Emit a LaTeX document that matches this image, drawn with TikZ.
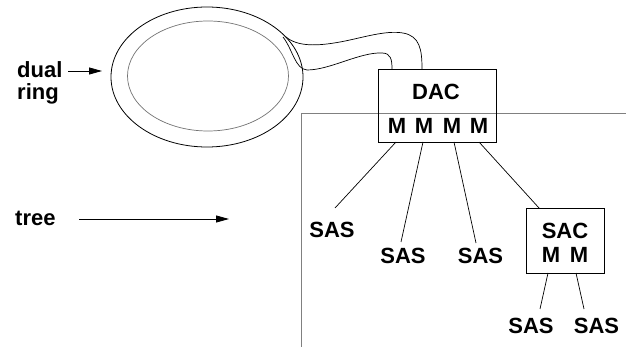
\documentclass[tikz,border=0pt]{standalone}
\usepackage{fontspec}
\setmainfont{Liberation Sans}
\usetikzlibrary{arrows.meta,shapes.geometric}
\begin{document}
\begin{tikzpicture}[x=1pt,y=-1pt,
  lbl/.style={font=\fontsize{22}{24}\selectfont\bfseries, inner sep=0pt},
  blk/.style={draw=black, line width=0.8pt},
  fine/.style={draw=black, line width=0.7pt},
  grayline/.style={draw=black!50, line width=0.8pt},
  arr/.style={line width=0.8pt, -{Triangle[length=13pt,width=7pt]}}]
\useasboundingbox (0,0) rectangle (626,347);
% gray L
\coordinate (gtop) at (301,113);
\coordinate (gbot) at (301,347);
\coordinate (gright) at (626,113);
\draw[grayline] (gbot) -- (gtop) -- (gright);
% ring
\node[draw=black, line width=0.8pt, ellipse, minimum width=192pt, minimum height=140pt, inner sep=0pt] (outer) at (207,77) {};
\node[draw=black!55, line width=0.7pt, ellipse, minimum width=161pt, minimum height=110pt, inner sep=0pt] (inner) at (208,76) {};
% DAC box
\node[blk, minimum width=118pt, minimum height=73pt, inner sep=0pt] (dac) at (437,105.5) {};
\node[lbl] (dactxt) at (436,92) {DAC};
\node[lbl] (m1) at (397,126) {M};
\node[lbl] (m2) at (424,126) {M};
\node[lbl] (m3) at (452,126) {M};
\node[lbl] (m4) at (479,126) {M};
% fibre tail
\coordinate (tu) at (422,69);
\coordinate (tl) at (392,69);
\draw[fine] (286,37) .. controls (298,47) and (318,46) .. (340,42)
  .. controls (362,38) and (385,30) .. (403,33)
  .. controls (420,36) and (422,50) .. (tu);
\draw[fine] (283,37) .. controls (293,50) and (295,69) .. (307,70)
  .. controls (330,70) and (360,52) .. (382,53)
  .. controls (391,53) and (392,60) .. (tl);
% SAC box
\node[blk, minimum width=78pt, minimum height=65pt, inner sep=0pt] (sac) at (565,240.5) {};
\node[lbl] (sactxt) at (565,231) {SAC};
\node[lbl] (sm1) at (551,255) {M};
\node[lbl] (sm2) at (579,255) {M};
% SAS labels
\node[lbl] (s1) at (332,230) {SAS};
\node[lbl] (s2) at (403,256) {SAS};
\node[lbl] (s3) at (480.5,256) {SAS};
\node[lbl] (s4) at (531,326) {SAS};
\node[lbl] (s5) at (596.5,326) {SAS};
% connectors
\coordinate (d1) at (396,142);
\coordinate (d2) at (423,142);
\coordinate (d3) at (454,142);
\coordinate (d4) at (479,142);
\coordinate (e1) at (335,208);
\coordinate (e2) at (401,242);
\coordinate (e3) at (476,243);
\coordinate (e4) at (539,208);
\draw[fine] (d1) -- (e1);
\draw[fine] (d2) -- (e2);
\draw[fine] (d3) -- (e3);
\draw[fine] (d4) -- (e4);
\coordinate (f1) at (548,273);
\coordinate (f2) at (576,273);
\coordinate (g1) at (540,309);
\coordinate (g2) at (584,309);
\draw[fine] (f1) -- (g1);
\draw[fine] (f2) -- (g2);
% left labels
\node[lbl, anchor=base west] (dual) at (17,77.5) {dual};
\node[lbl, anchor=base west] (ring) at (17,100) {ring};
\coordinate (da) at (68,71);
\coordinate (db) at (102,71);
\draw[arr] (da) -- (db);
\node[lbl, anchor=base west] (tree) at (15,226) {tree};
\coordinate (ta) at (79,219);
\coordinate (tb) at (229,219);
\draw[arr] (ta) -- (tb);
\end{tikzpicture}
\end{document}
